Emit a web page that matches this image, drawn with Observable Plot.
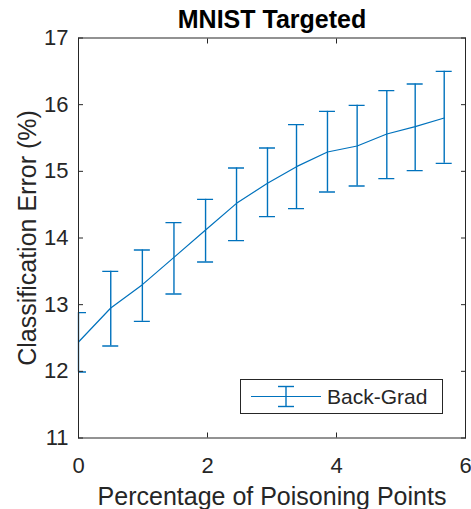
<!DOCTYPE html>
<html>
<head>
<meta charset="utf-8">
<script src="https://cdn.jsdelivr.net/npm/d3@7"></script>
<script src="https://cdn.jsdelivr.net/npm/@observablehq/plot@0.6"></script>
<style>
  html, body { margin: 0; padding: 0; background: #fff; }
  #wrap { position: relative; width: 471px; height: 509px; font-family: "Liberation Sans", Arial, Helvetica, sans-serif; }
  #legend { position: absolute; left: 240px; top: 379px; width: 203px; height: 35px; box-sizing: border-box;
            border: 1px solid #262626; background: #fff; }
  #legend svg { position: absolute; left: 0; top: 0; }
  #legend span { position: absolute; left: 86px; top: 5px; font-size: 21px; line-height: 24px; color: #262626; }
</style>
</head>
<body>
<div id="wrap"></div>
<script>
const title = "MNIST Targeted";
const xLabel = "Percentage of Poisoning Points";
const yLabel = "Classification Error (%)";
const seriesName = "Back-Grad";
const xTicks = [0, 2, 4, 6];
const yTicks = [11, 12, 13, 14, 15, 16, 17];

const xs   = [0, 0.50, 0.99, 1.48, 1.97, 2.45, 2.93, 3.38, 3.86, 4.32, 4.78, 5.22, 5.67];
const mean = [12.44, 12.95, 13.30, 13.71, 14.12, 14.52, 14.82, 15.07, 15.29, 15.38, 15.56, 15.67, 15.80];
const hi   = [12.88, 13.50, 13.82, 14.23, 14.58, 15.05, 15.35, 15.70, 15.90, 15.99, 16.21, 16.31, 16.50];
const lo   = [11.99, 12.38, 12.75, 13.16, 13.64, 13.96, 14.32, 14.44, 14.69, 14.78, 14.89, 15.01, 15.12];

const data = xs.map((x, i) => ({x, m: mean[i], hi: hi[i], lo: lo[i]}));
const blue = "#0072BD";
const axisColor = "#262626";
const font = "'Liberation Sans', Arial, Helvetica, sans-serif";

const chart = Plot.plot({
  width: 471,
  height: 509,
  marginLeft: 78,
  marginRight: 6,
  marginTop: 37.5,
  marginBottom: 71.5,
  style: {fontFamily: font, background: "#fff", overflow: "visible"},
  x: {domain: [0, 6]},
  y: {domain: [11, 17]},
  marks: [
    Plot.line(data, {x: "x", y: "m", stroke: blue, strokeWidth: 1.2}),
    Plot.ruleX(data, {x: "x", y1: "lo", y2: "hi", stroke: blue, strokeWidth: 1.4}),
    Plot.ruleY(data, {y: "hi", x1: "x", x2: "x", insetLeft: -8, insetRight: -8, stroke: blue, strokeWidth: 1.4, clip: true}),
    Plot.ruleY(data, {y: "lo", x1: "x", x2: "x", insetLeft: -8, insetRight: -8, stroke: blue, strokeWidth: 1.4, clip: true}),
    Plot.axisX(xTicks, {anchor: "bottom", tickSize: 5, dy: -5, fill: "none", stroke: axisColor, label: null}),
    Plot.axisX(xTicks, {anchor: "top", tickSize: 5, dy: 5, fill: "none", stroke: axisColor, label: null}),
    Plot.axisY(yTicks, {anchor: "left", tickSize: 5, dx: 5, fill: "none", stroke: axisColor, label: null}),
    Plot.axisY(yTicks, {anchor: "right", tickSize: 5, dx: -5, fill: "none", stroke: axisColor, label: null}),
    Plot.frame({stroke: axisColor}),
    Plot.text(xTicks, {x: d => d, text: d => String(d), frameAnchor: "bottom", dy: 19, lineAnchor: "top", fontSize: 22, fill: axisColor}),
    Plot.text(yTicks, {y: d => d, text: d => String(d), frameAnchor: "left", dx: -10, textAnchor: "end", lineAnchor: "middle", fontSize: 22, fill: axisColor}),
    Plot.text([xLabel], {text: d => d, frameAnchor: "bottom", dy: 66.5, lineAnchor: "bottom", fontSize: 25, fill: axisColor}),
    Plot.text([yLabel], {text: d => d, frameAnchor: "left", dx: -43, rotate: -90, textAnchor: "middle", lineAnchor: "bottom", fontSize: 25, fill: axisColor}),
    Plot.text([title], {text: d => d, frameAnchor: "top", dy: -10.5, lineAnchor: "bottom", fontSize: 25, fontWeight: "bold", fill: "#000"})
  ]
});

const wrap = document.getElementById("wrap");
wrap.appendChild(chart);

const legend = document.createElement("div");
legend.id = "legend";
legend.innerHTML = `<svg width="90" height="33">
  <line x1="10" y1="16.5" x2="80" y2="16.5" stroke="${blue}" stroke-width="1.2"/>
  <line x1="45" y1="6.5" x2="45" y2="26.5" stroke="${blue}" stroke-width="1.4"/>
  <line x1="37" y1="6.5" x2="53" y2="6.5" stroke="${blue}" stroke-width="1.4"/>
  <line x1="37" y1="26.5" x2="53" y2="26.5" stroke="${blue}" stroke-width="1.4"/>
</svg><span>${seriesName}</span>`;
wrap.appendChild(legend);
</script>
</body>
</html>
